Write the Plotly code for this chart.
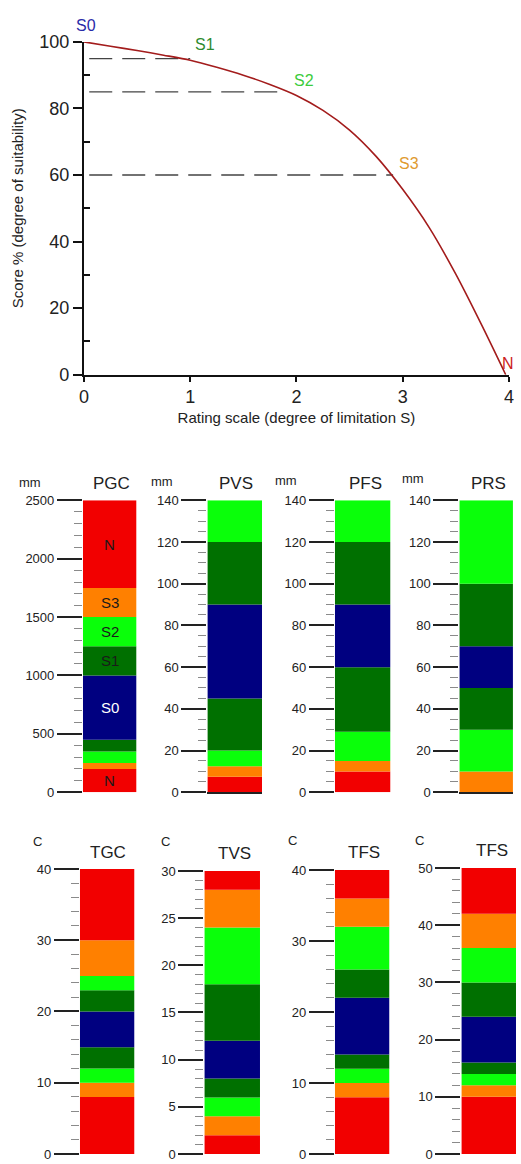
import plotly.graph_objects as go

W, H = 521, 1164
FONT = "Liberation Sans, Arial, sans-serif"

# ---------------- top chart data ----------------
rating_x = [0.0, 0.25, 0.5, 0.75, 1.0, 1.25, 1.5, 1.75, 2.0, 2.25, 2.5, 2.75, 3.0, 3.25, 3.5, 3.75, 3.97]
score_y = [100, 98.7, 97.4, 96.0, 94.5, 92.4, 90.0, 87.2, 83.9, 79.4, 73.5, 65.6, 55.7, 44.2, 30.2, 14.5, 0]
threshold_scores = [95, 85, 60]
threshold_rating = [1.0, 1.9, 2.91]
class_names = ["S0", "S1", "S2", "S3", "N"]

# ---------------- column panels data ----------------
pgc_edges = [0, 200, 250, 350, 450, 1000, 1250, 1500, 1750, 2500]
pgc_classes = ["N", "S3", "S2", "S1", "S0", "S1", "S2", "S3", "N"]
pgc_text = ["N", "", "", "", "S0", "S1", "S2", "S3", "N"]

pvs_edges = [0, 7.5, 12.5, 20, 45, 90, 120, 140]
pvs_classes = ["N", "S3", "S2", "S1", "S0", "S1", "S2"]

pfs_edges = [0, 10, 15, 29, 60, 90, 120, 140]
pfs_classes = ["N", "S3", "S2", "S1", "S0", "S1", "S2"]

prs_edges = [0, 10, 30, 50, 70, 100, 140]
prs_classes = ["S3", "S2", "S1", "S0", "S1", "S2"]

tgc_edges = [0, 8, 10, 12, 15, 20, 23, 25, 30, 40]
tgc_classes = ["N", "S3", "S2", "S1", "S0", "S1", "S2", "S3", "N"]

tvs_edges = [0, 2, 4, 6, 8, 12, 18, 24, 28, 30]
tvs_classes = ["N", "S3", "S2", "S1", "S0", "S1", "S2", "S3", "N"]

tfs1_edges = [0, 8, 10, 12, 14, 22, 26, 32, 36, 40]
tfs1_classes = ["N", "S3", "S2", "S1", "S0", "S1", "S2", "S3", "N"]

tfs2_edges = [0, 10, 12, 14, 16, 24, 30, 36, 42, 50]
tfs2_classes = ["N", "S3", "S2", "S1", "S0", "S1", "S2", "S3", "N"]

class_color = {"S0": "#000080", "S1": "#007000", "S2": "#0aff0a",
               "S3": "#ff8000", "N": "#f20000"}
label_color = {"S0": "#2a2aa8", "S1": "#2e8b2e", "S2": "#3ccc3c",
               "S3": "#e09a30", "N": "#cc2222"}

# The page shows the figure inside an 8 px body margin; map target page pixels
# to paper fractions of the visible figure area.
OX, OY, VW, VH = 8.0, 8.0, 505.0, 1148.0


def fx(t):
    return min(1.0, max(0.0, (t - OX) / VW))


def fy(t):
    return min(1.0, max(0.0, 1 - (t - OY) / VH))


def px_x(a, b):
    return [fx(a), fx(b)]


def px_y(top, bottom):
    return [fy(bottom), fy(top)]


fig = go.Figure()
layout = dict(
    width=W, height=H, margin=dict(l=0, r=0, t=0, b=0),
    paper_bgcolor="white", plot_bgcolor="white", showlegend=False,
    barmode="overlay", font=dict(family=FONT, color="#222"),
)
annotations = []

# ---------------- top chart ----------------
for s, r in zip(threshold_scores, threshold_rating):
    fig.add_trace(go.Scatter(x=[0.05, r], y=[s, s], mode="lines",
                             line=dict(color="#444", width=1.3, dash="23px,10px"),
                             xaxis="x", yaxis="y", hoverinfo="skip"))
fig.add_trace(go.Scatter(x=rating_x, y=score_y, mode="lines",
                         line=dict(color="#a31c1c", width=1.6, shape="spline", smoothing=0.8),
                         xaxis="x", yaxis="y"))

layout["xaxis"] = dict(domain=px_x(86, 506), anchor="y", range=[0, 4],
                       tickvals=[0, 1, 2, 3, 4], ticks="outside", ticklen=5, tickwidth=2,
                       tickcolor="#111", showline=True, linecolor="#111", linewidth=2,
                       showgrid=False, zeroline=False,
                       tickfont=dict(size=18, color="#222"),
                       title=dict(text="Rating scale (degree of limitation S)",
                                  font=dict(size=15, color="#222"), standoff=6))
layout["yaxis"] = dict(domain=px_y(40, 374), anchor="x", range=[0, 100],
                       tickvals=[0, 20, 40, 60, 80, 100], ticks="outside", ticklen=9,
                       tickwidth=2, tickcolor="#111", showline=True, linecolor="#111",
                       linewidth=2, showgrid=False, zeroline=False,
                       minor=dict(tickvals=[10, 30, 50, 70, 90], ticks="inside",
                                  ticklen=6, tickwidth=1.5, tickcolor="#111"),
                       tickfont=dict(size=18, color="#222"),
                       title=dict(text="Score % (degree of suitability)",
                                  font=dict(size=15, color="#222"), standoff=12))

# class labels near the curve (target page pixel positions)
lab_pos = {"S0": (88, 24, "center"), "S1": (206, 43, "center"),
           "S2": (303, 79, "center"), "S3": (407, 162, "center"),
           "N": (513, 363, "right")}
for name in class_names:
    xx, yy, anc = lab_pos[name]
    annotations.append(dict(x=fx(xx), y=fy(yy), xref="paper", yref="paper", text=name,
                            showarrow=False, xanchor=anc, yanchor="middle",
                            font=dict(size=16, color=label_color[name], family=FONT)))

# ---------------- column panels ----------------
panels = [
    (pgc_edges, pgc_classes, pgc_text, (85, 138), (500, 793), 500, 100, "mm", (33, 482), "PGC", (113, 483), False),
    (pvs_edges, pvs_classes, None, (208, 262), (500, 793), 20, 5, "mm", (163, 481), "PVS", (236, 483), True),
    (pfs_edges, pfs_classes, None, (334, 389), (500, 793), 20, 5, "mm", (286, 480), "PFS", (364, 483), False),
    (prs_edges, prs_classes, None, (457, 510), (500, 793), 20, 5, "mm", (411, 478), "PRS", (486, 483), True),
    (tgc_edges, tgc_classes, None, (82, 136), (870, 1163), 10, 2, "C", (40, 842), "TGC", (110, 853), False),
    (tvs_edges, tvs_classes, None, (205, 260), (872, 1164), 5, 1, "C", (167, 842), "TVS", (235, 854), False),
    (tfs1_edges, tfs1_classes, None, (334, 388), (871, 1163), 10, 2, "C", (292, 841), "TFS", (363, 853), False),
    (tfs2_edges, tfs2_classes, None, (459, 513), (869, 1162), 10, 2, "C", (418, 841), "TFS", (489, 851), False),
]

for i, (edges, classes, texts, xpx, ypx, major, minor, unit, upos, title, tpos, baseline) in enumerate(panels):
    k = i + 2
    xa, ya = f"x{k}", f"y{k}"
    bases = edges[:-1]
    heights = [edges[j + 1] - edges[j] for j in range(len(classes))]
    fig.add_trace(go.Bar(x=[0] * len(classes), y=heights, base=bases, width=1,
                         marker=dict(color=[class_color[c] for c in classes], line=dict(width=0)),
                         xaxis=xa, yaxis=ya, hoverinfo="skip"))
    top = edges[-1]
    layout[f"xaxis{k}"] = dict(domain=px_x(*xpx), anchor=ya, range=[-0.5, 0.5],
                               showticklabels=False, ticks="", showgrid=False,
                               zeroline=False, showline=baseline, linecolor="#222",
                               linewidth=1.5)
    layout[f"yaxis{k}"] = dict(domain=px_y(*ypx), anchor=xa, range=[0, top],
                               tick0=0, dtick=major, ticks="outside", ticklen=25,
                               tickwidth=1.5, tickcolor="#222", showline=False,
                               showgrid=False, zeroline=False,
                               minor=dict(tick0=0, dtick=minor, ticks="outside", ticklen=8,
                                          tickwidth=1, tickcolor="#8a8a8a", showgrid=False),
                               tickfont=dict(size=13, color="#222"))
    annotations.append(dict(x=fx(upos[0]), y=fy(upos[1]), xref="paper", yref="paper",
                            text=unit, showarrow=False, xanchor="center", yanchor="middle",
                            font=dict(size=13, color="#222", family=FONT)))
    annotations.append(dict(x=fx(tpos[0]), y=fy(tpos[1]), xref="paper", yref="paper",
                            text=title, showarrow=False, xanchor="center", yanchor="middle",
                            font=dict(size=17, color="#222", family=FONT)))
    if texts:
        for j, t in enumerate(texts):
            if not t:
                continue
            annotations.append(dict(x=0, y=(edges[j] + edges[j + 1]) / 2, xref=xa, yref=ya,
                                    text=t, showarrow=False, xanchor="center", yanchor="middle",
                                    font=dict(size=15, family=FONT,
                                              color="white" if classes[j] == "S0" else "#1a1a1a")))

layout["annotations"] = annotations
fig.update_layout(**layout)
fig.write_html("out.html")
